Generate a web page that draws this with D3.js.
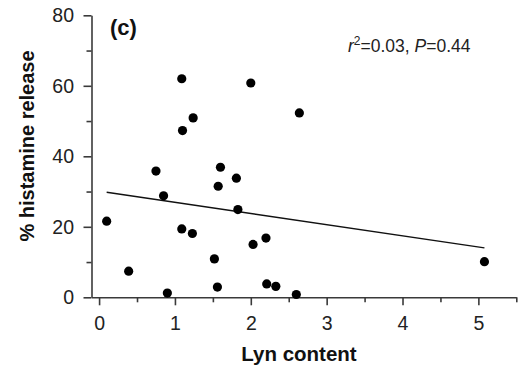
<!DOCTYPE html>
<html>
<head>
<meta charset="utf-8">
<script src="https://cdn.jsdelivr.net/npm/d3@7"></script>
<style>
  html, body { margin: 0; padding: 0; background: #fff; }
  svg { display: block; font-family: "Liberation Sans", Arial, Helvetica, sans-serif; }
</style>
</head>
<body>
<svg id="chart" width="529" height="366"></svg>
<script>
// Data
const lynContent = [0.10, 0.39, 0.90, 0.85, 0.75, 1.09, 1.10, 1.24, 2.00, 1.60, 1.81, 1.57,
                    1.83, 1.09, 1.23, 1.52, 1.56, 2.03, 2.20, 2.21, 2.33, 2.60, 5.08, 2.64];
const histamineRelease = [21.6, 7.4, 1.2, 28.8, 35.8, 62.0, 47.3, 50.9, 60.8, 36.9, 33.8, 31.5,
                          24.9, 19.4, 18.1, 10.9, 2.9, 15.0, 16.8, 3.8, 3.1, 0.8, 10.1, 52.3];
const fitX = [0.10, 5.08];
const fitY = [29.8, 14.0];
const xMajorTicks = [0, 1, 2, 3, 4, 5];
const xMinorTicks = [0.5, 1.5, 2.5, 3.5, 4.5, 5.5];
const yMajorTicks = [0, 20, 40, 60, 80];
const yMinorTicks = [10, 30, 50, 70];
const xTitle = "Lyn content";
const yTitle = "% histamine release";
const panelLabel = "(c)";

const svg = d3.select("#chart");
const axisColor = "#3a3a3a";

const x = d3.scaleLinear().domain([-0.1, 5.5]).range([91.5, 516.3]);
const y = d3.scaleLinear().domain([0, 80]).range([297.3, 15.3]);

// X axis
const gx = svg.append("g").attr("transform", `translate(0,${y(0)})`);
gx.call(d3.axisBottom(x).tickValues(xMajorTicks).tickFormat(d3.format("d"))
  .tickSize(8).tickSizeOuter(0).tickPadding(11));
const gxm = svg.append("g").attr("transform", `translate(0,${y(0)})`);
gxm.call(d3.axisBottom(x).tickValues(xMinorTicks).tickFormat("").tickSize(5).tickSizeOuter(0));
gxm.select(".domain").remove();

// Y axis
const gy = svg.append("g").attr("transform", `translate(${x(-0.1)},0)`);
gy.call(d3.axisLeft(y).tickValues(yMajorTicks).tickFormat(d3.format("d"))
  .tickSize(8).tickSizeOuter(0).tickPadding(9.5));
const gym = svg.append("g").attr("transform", `translate(${x(-0.1)},0)`);
gym.call(d3.axisLeft(y).tickValues(yMinorTicks).tickFormat("").tickSize(5).tickSizeOuter(0));
gym.select(".domain").remove();

svg.selectAll(".domain, .tick line")
  .attr("stroke", axisColor).attr("stroke-width", 1.6);
svg.selectAll(".tick text")
  .attr("font-size", 19.5).attr("fill", "#222")
  .attr("font-family", "'Liberation Sans', Arial, sans-serif");

// Regression line
svg.append("line")
  .attr("x1", x(fitX[0])).attr("y1", y(fitY[0]))
  .attr("x2", x(fitX[1])).attr("y2", y(fitY[1]))
  .attr("stroke", "#111").attr("stroke-width", 1.3);

// Points
svg.append("g").selectAll("circle")
  .data(lynContent.map((v, i) => [v, histamineRelease[i]]))
  .join("circle")
  .attr("cx", d => x(d[0])).attr("cy", d => y(d[1]))
  .attr("r", 4.6).attr("fill", "#000");

// Titles
svg.append("text")
  .attr("x", 299).attr("y", 361)
  .attr("text-anchor", "middle")
  .attr("font-size", 20.5).attr("font-weight", "bold").attr("fill", "#111")
  .text(xTitle);

svg.append("text")
  .attr("transform", "translate(34,146) rotate(-90)")
  .attr("text-anchor", "middle")
  .attr("font-size", 20).attr("font-weight", "bold").attr("fill", "#111")
  .text(yTitle);

svg.append("text")
  .attr("x", 110).attr("y", 35)
  .attr("font-size", 22).attr("font-weight", "bold").attr("fill", "#111")
  .text(panelLabel);

// Annotation
const ann = svg.append("text")
  .attr("x", 348).attr("y", 51.5)
  .attr("font-size", 17.5).attr("fill", "#222");
ann.append("tspan").attr("font-style", "italic").text("r");
ann.append("tspan").attr("font-size", 12).attr("dy", -6.5).text("2");
ann.append("tspan").attr("dy", 6.5).text("=0.03, ");
ann.append("tspan").attr("font-style", "italic").text("P");
ann.append("tspan").text("=0.44");
</script>
</body>
</html>
